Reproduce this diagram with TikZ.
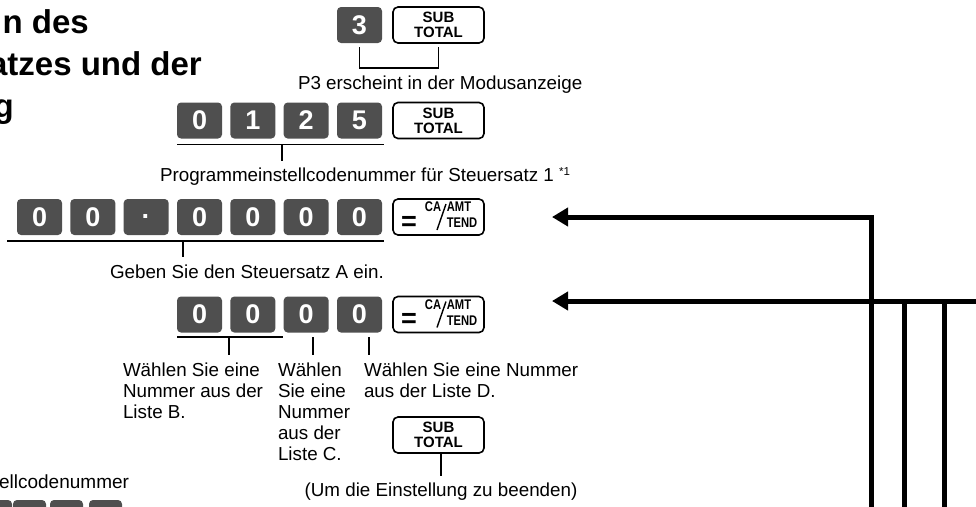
\documentclass[tikz,border=0pt]{standalone}
\usepackage{fontspec}
\setmainfont{Liberation Sans}
\usetikzlibrary{arrows.meta,positioning}

\newcommand{\keyFont}{\fontsize{27}{27}\selectfont\bfseries}
\newcommand{\labelFont}{\fontsize{18.8}{21}\selectfont}
\newcommand{\titleFont}{\fontsize{33}{40}\selectfont\bfseries}
\newcommand{\capFont}{\fontsize{15}{15}\selectfont\bfseries}
\newcommand{\legendFont}{\fontsize{14}{14}\selectfont\bfseries}
\newcommand{\pointKey}{\raisebox{-8.6pt}[0pt][0pt]{·}}

\begin{document}
\begin{tikzpicture}[x=1pt, y=-1pt,
    numkey/.style={rectangle, rounded corners=4pt, fill=keyGrey, text=white, font=\keyFont,
        minimum width=45pt, minimum height=36pt, inner sep=0pt, outer sep=0pt},
    funckey/.style={rectangle, rounded corners=5pt, draw=black, line width=1.6pt, fill=white,
        minimum width=91pt, minimum height=36pt, inner sep=0pt, outer sep=0pt, align=center, font=\capFont},
    legend/.style={inner sep=0pt, font=\legendFont},
    keylabel/.style={font=\labelFont, inner sep=0pt, outer xsep=0pt, outer ysep=7pt, align=left},
    guide/.style={line width=1.1pt},
    flow/.style={line width=5pt}]
    \def\keyPitch{53.33}

    \definecolor{keyGrey}{HTML}{4F4F4F}

    \useasboundingbox (0,0) rectangle (976,506);

    % Title, cut off on the left
    \node[font=\titleFont, anchor=base east, inner sep=0pt] (title1) at (89,33) {n des};
    \node[font=\titleFont, anchor=base east, inner sep=0pt] (title2) at (202,75) {atzes und der};
    \node[font=\titleFont, anchor=base east, inner sep=0pt] (title3) at (14,117) {g};

    % Row 1: 3, SUB TOTAL
    \node[numkey] (r1k7) at (359.5,25) {3};
    \node[funckey, right=11pt of r1k7] (r1f) {SUB\\TOTAL};
    \draw[guide] ([yshift=-4pt]r1k7.south) -- ++(0,21) -| ([yshift=-4pt]r1f.south);
    \node[keylabel, anchor=base west] (lblMode) at (298,89.6) {P3 erscheint in der Modusanzeige};

    % Row 2: 0 1 2 5, SUB TOTAL
    \foreach \d [count=\i from 4] in {0,1,2,5}
        \node[numkey] (r2k\i) at ({359.5-\keyPitch*(7-\i)},120.5) {\d};
    \node[funckey, right=11pt of r2k7] (r2f) {SUB\\TOTAL};
    \coordinate (u2a) at ([yshift=-6pt]r2k4.south west);
    \coordinate (u2b) at ([xshift=2pt,yshift=-6pt]r2k7.south east);
    \draw[guide] (u2a) -- (u2b);
    \node[keylabel, anchor=base west] (lblCode) at (160,181.6)
        {Programmeinstellcodenummer für Steuersatz 1 \raisebox{6pt}{\fontsize{11.5}{11.5}\selectfont *1}};
    \coordinate (t2) at (282,144.5);
    \draw[guide] (t2) -- (t2 |- lblCode.north);

    % Row 3: 00.0000, CA/AMT TEND
    \foreach \d [count=\i] in {0,0,\pointKey,0,0,0,0}
        \node[numkey] (r3k\i) at ({359.5-\keyPitch*(7-\i)},217) {\d};
    \node[funckey, right=11pt of r3k7] (r3f) {};
    \coordinate (u3a) at ([xshift=-10pt,yshift=-6pt]r3k1.south west);
    \coordinate (u3b) at ([xshift=2pt,yshift=-6pt]r3k7.south east);
    \draw[guide] (u3a) -- (u3b);
    \node[keylabel, anchor=base west] (lblRate) at (110,278) {Geben Sie den Steuersatz A ein.};
    \coordinate (t3) at (183,241);
    \draw[guide] (t3) -- (t3 |- lblRate.north);

    % Row 4: 0000, CA/AMT TEND
    \foreach \d [count=\i from 4] in {0,0,0,0}
        \node[numkey] (r4k\i) at ({359.5-\keyPitch*(7-\i)},314.5) {\d};
    \node[funckey, right=11pt of r4k7] (r4f) {};
    \coordinate (u4a) at ([yshift=-4.5pt]r4k4.south west);
    \coordinate (u4b) at ([xshift=8pt,yshift=-4.5pt]r4k5.south east);
    \draw[guide] (u4a) -- (u4b);
    \node[keylabel, anchor=north west] (lblB) at (123,355.4) {Wählen Sie eine\\Nummer aus der\\Liste B.};
    \node[keylabel, anchor=north west] (lblC) at (278,355.4) {Wählen\\Sie eine\\Nummer\\aus der\\Liste C.};
    \node[keylabel, anchor=north west] (lblD) at (364,355.4) {Wählen Sie eine Nummer\\aus der Liste D.};
    \coordinate (t4b) at (229,337);
    \coordinate (t4c) at (313,337);
    \coordinate (t4d) at (369,337);
    \draw[guide] (t4b) -- (t4b |- lblB.north);
    \draw[guide] (t4c) -- (t4c |- lblC.north);
    \draw[guide] (t4d) -- (t4d |- lblD.north);

    % Legend of the CA/AMT TEND keys
    \foreach \k in {r3f,r4f} {
        \node[inner sep=0pt, font=\fontsize{27}{27}\selectfont\bfseries] (\k-eq) at ([xshift=16pt,yshift=-6pt]\k.west) {=};
        \node[legend] (\k-ca) at ([xshift=40pt,yshift=10pt]\k.west) {\scalebox{0.8}[1]{CA}};
        \node[legend] (\k-amt) at ([xshift=66pt,yshift=10pt]\k.west) {\scalebox{0.8}[1]{AMT}};
        \node[legend] (\k-tend) at ([xshift=69pt,yshift=-6pt]\k.west) {\scalebox{0.8}[1]{TEND}};
        \draw[line width=1.4pt] ([xshift=53pt,yshift=13pt]\k.west) -- ([xshift=44pt,yshift=-13pt]\k.west);
    }

    % Closing SUB TOTAL
    \node[funckey] (endf) at (438.5,435) {SUB\\TOTAL};
    \node[keylabel, anchor=base] (lblEnd) at (441,496.6) {(Um die Einstellung zu beenden)};
    \draw[guide] ([xshift=2.5pt]endf.south) -- ([xshift=2.5pt]endf.south |- lblEnd.north);

    % Next block, cut off at the bottom
    \foreach \x [count=\i] in {-21,13,50,89}
        \node[numkey, minimum width=33pt, anchor=north west] (r5k\i) at (\x,500) {};
    \node[keylabel, anchor=base east, font=\fontsize{19}{21}\selectfont] (lblCut) at (129,488) {ellcodenummer};

    % Return arrows
    \coordinate (ret1) at (871,508);
    \coordinate (tip1) at ([xshift=68pt]r3f.east);
    \draw[flow, -{Triangle[length=16pt,width=18pt]}] (ret1) |- (tip1);
    \coordinate (ret2) at (978,301);
    \coordinate (tip2) at (552,301);
    \draw[flow, -{Triangle[length=16pt,width=18pt]}] (ret2) -- (tip2);
    \foreach \x [count=\i] in {904,944} {
        \coordinate (drop\i) at (\x,301);
        \draw[flow] (drop\i) -- (drop\i |- ret1);
    }

\end{tikzpicture}
\end{document}
